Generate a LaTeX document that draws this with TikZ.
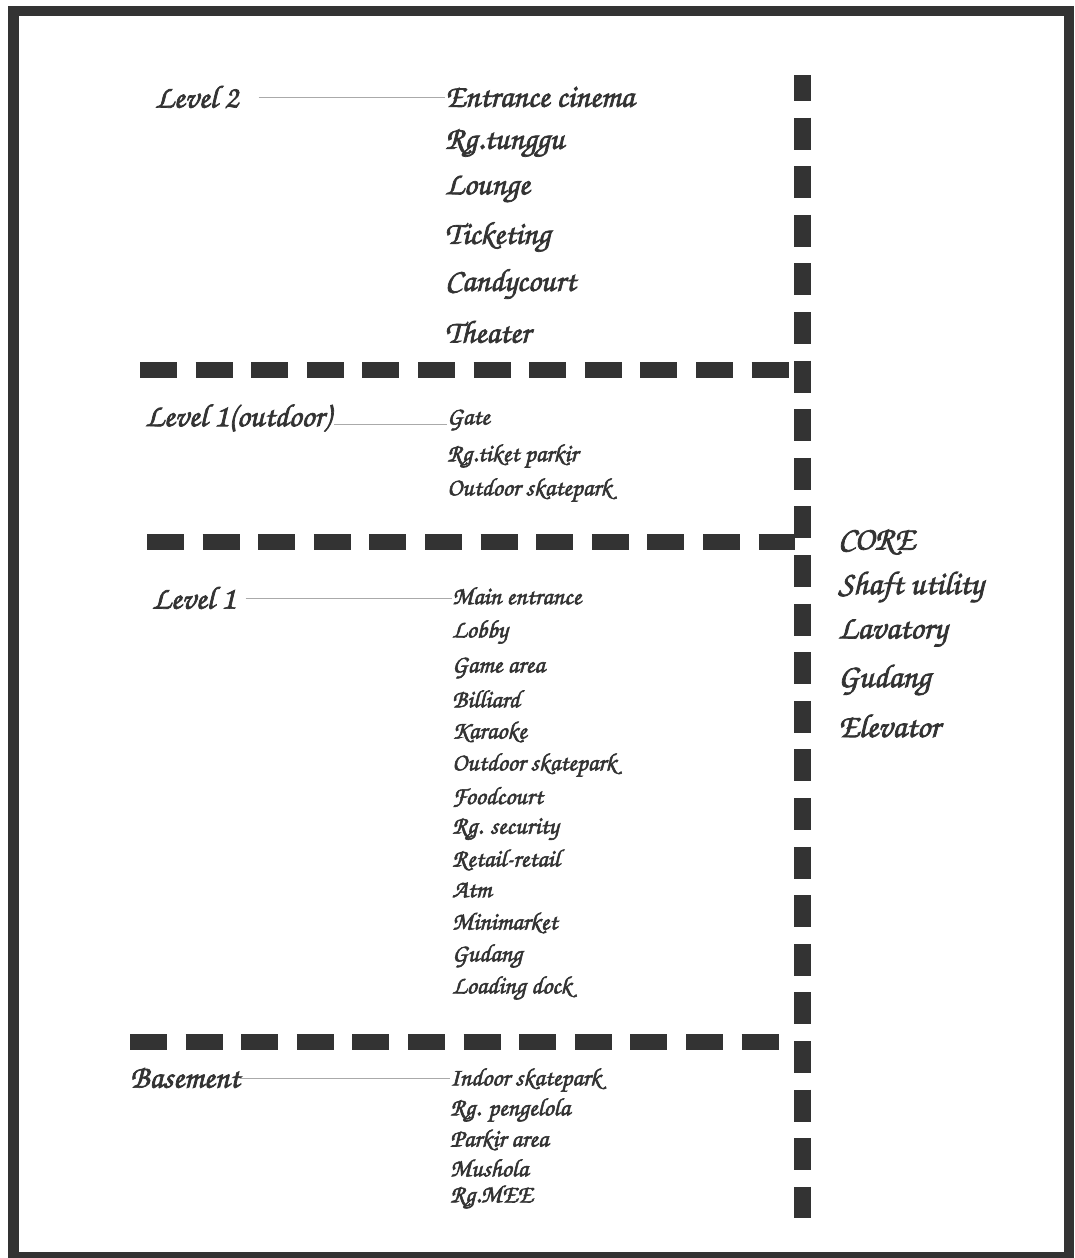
\documentclass[tikz,border=0pt]{standalone}
\usepackage{fontspec}
\newfontfamily\handfont[FakeBold=2.2]{texgyrechorus-mediumitalic.otf}
\usepackage{tikz}
\definecolor{ink}{HTML}{333333}
\definecolor{leader}{HTML}{AAAAAA}

\begin{document}
\begin{tikzpicture}[x=1pt,y=-1pt,
  lvl/.style={anchor=west,inner sep=0pt,text=ink,font=\handfont\fontsize{32}{34}\selectfont},
  big/.style={anchor=west,inner sep=0pt,text=ink,font=\handfont\fontsize{32}{34}\selectfont},
  core/.style={anchor=west,inner sep=0pt,text=ink,font=\handfont\fontsize{33}{35}\selectfont},
  small/.style={anchor=west,inner sep=0pt,text=ink,font=\handfont\fontsize{25}{27}\selectfont},
  floorline/.style={ink,line width=15.5pt,dash pattern=on 37pt off 18.6pt},
  coreline/.style={ink,line width=17pt,dash pattern=on 32pt off 16.6pt,dash phase=6pt},
  link/.style={leader,line width=.8pt}]
  \useasboundingbox (0,0) rectangle (1074,1258);
  % frame
  \fill[ink] (8,6) rectangle (1074,1258);
  \fill[white] (19,16) rectangle (1064,1252);
  % core and floor dividers
  \draw[coreline] (802,75)--(802,1218);
  \draw[floorline] (140,370)--(790,370);
  \draw[floorline] (147,542)--(795,542);
  \draw[floorline] (130,1042)--(781,1042);
  % level 2
  \node[lvl] (lvtwo) at (155,97) {Level 2};
  \node[big] (entcin) at (445,97) {Entrance cinema};
  \node[big] (tunggu) at (445,143) {Rg.tunggu};
  \node[big] (lounge) at (445,189) {Lounge};
  \node[big] (ticket) at (445,237) {Ticketing};
  \node[big] (candy) at (445,284) {Candycourt};
  \node[big] (theater) at (445,332) {Theater};
  \draw[link] ([xshift=20pt]lvtwo.east)--(lvtwo.east-|entcin.west);
  % level 1 (outdoor)
  \node[lvl] (lvout) at (145,418) {Level 1(outdoor)};
  \node[small] (gate) at (447,420) {Gate};
  \node[small] (tiket) at (447,456) {Rg.tiket parkir};
  \node[small] (outsk) at (447,490) {Outdoor skatepark};
  \draw[link] ([xshift=3pt,yshift=-6pt]lvout.east)--([yshift=-6pt]lvout.east-|gate.west);
  % level 1
  \node[lvl] (lvone) at (152,598) {Level 1};
  \node[small] (mainent) at (452,596) {Main entrance};
  \node[small] (lobby) at (452,632) {Lobby};
  \node[small] (game) at (452,668) {Game area};
  \node[small] (billiard) at (452,699) {Billiard};
  \node[small] (karaoke) at (452,732) {Karaoke};
  \node[small] (outskb) at (452,765) {Outdoor skatepark};
  \node[small] (food) at (452,797) {Foodcourt};
  \node[small] (secur) at (452,829) {Rg. security};
  \node[small] (retail) at (452,860) {Retail-retail};
  \node[small] (atm) at (452,890) {Atm};
  \node[small] (minim) at (452,923) {Minimarket};
  \node[small] (gudang) at (452,956) {Gudang};
  \node[small] (loading) at (452,988) {Loading dock};
  \draw[link] ([xshift=10pt]lvone.east)--(lvone.east-|mainent.west);
  % basement
  \node[lvl] (lvbase) at (130,1078) {Basement};
  \node[small] (indoor) at (450,1080) {Indoor skatepark};
  \node[small] (pengel) at (450,1110) {Rg. pengelola};
  \node[small] (parkir) at (450,1140) {Parkir area};
  \node[small] (mushola) at (450,1168) {Mushola};
  \node[small] (mee) at (450,1197) {Rg.MEE};
  \draw[link] (lvbase.east)--(lvbase.east-|indoor.west);
  % core
  \node[core] (coretop) at (838,542) {CORE};
  \node[core] (shaft) at (838,587) {Shaft utility};
  \node[core] (lavat) at (838,633) {Lavatory};
  \node[core] (gudcore) at (838,680) {Gudang};
  \node[core] (elev) at (838,726) {Elevator};
\end{tikzpicture}
\end{document}
